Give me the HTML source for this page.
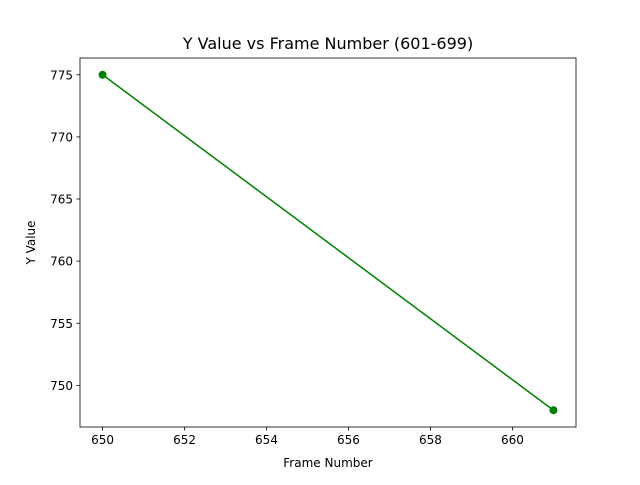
<!DOCTYPE html>
<html><head><meta charset="utf-8"><style>
body{margin:0;background:#fff;}
text{font-family:"DejaVu Sans","Liberation Sans",sans-serif;}
</style></head><body>
<svg id="chart" width="640" height="480" xmlns="http://www.w3.org/2000/svg"></svg>
<script>
const xValues = [650, 661];
const yValues = [775, 748];
const xTicks = [650, 652, 654, 656, 658, 660];
const yTicks = [750, 755, 760, 765, 770, 775];
const titleText = "Y Value vs Frame Number (601-699)";

const L=80,R=576,T=58,B=427;
const xmin=649.45,xmax=661.55,ymin=746.65,ymax=776.35;
const sx=v=>L+(v-xmin)/(xmax-xmin)*(R-L);
const sy=v=>B-(v-ymin)/(ymax-ymin)*(B-T);
const svg=document.getElementById('chart');
const NS="http://www.w3.org/2000/svg";
function mk(tag,attrs,parent){const e=document.createElementNS(NS,tag);for(const k in attrs)e.setAttribute(k,attrs[k]);(parent||svg).appendChild(e);return e;}

const t=mk('text',{x:328,y:49,'text-anchor':'middle','font-size':16});


t.textContent=titleText;

xTicks.forEach(v=>{
  const g=mk('g',{});
  
  
  mk('line',{x1:sx(v),x2:sx(v),y1:B,y2:B+3.5,stroke:'#000','stroke-width':0.8},g);
  const tx=mk('text',{x:sx(v),y:B+17,'text-anchor':'middle','font-size':12},g);
  tx.textContent=v;
});
yTicks.forEach(v=>{
  const g=mk('g',{});
  
  
  mk('line',{x1:L-3.5,x2:L,y1:sy(v),y2:sy(v),stroke:'#000','stroke-width':0.8},g);
  const tx=mk('text',{x:L-7,y:sy(v)+4.5,'text-anchor':'end','font-size':12},g);
  tx.textContent=v;
});

const xl=mk('text',{x:328,y:467,'text-anchor':'middle','font-size':12});


xl.textContent='Frame Number';
const yl=mk('text',{x:0,y:0,'text-anchor':'middle','font-size':12,transform:'translate(35,242.5) rotate(-90)'});


yl.textContent='Y Value';

const pts=xValues.map((x,i)=>sx(x)+','+sy(yValues[i])).join(' ');
const line=mk('polyline',{points:pts,fill:'none',stroke:'#008000','stroke-width':1.5});


xValues.forEach((x,i)=>{
  const c=mk('circle',{cx:sx(x),cy:sy(yValues[i]),r:4,fill:'#008000'});
  
  
});

const fr=mk('rect',{x:L,y:T,width:R-L,height:B-T,fill:'none',stroke:'#000','stroke-width':0.8});


</script>
</body></html>
